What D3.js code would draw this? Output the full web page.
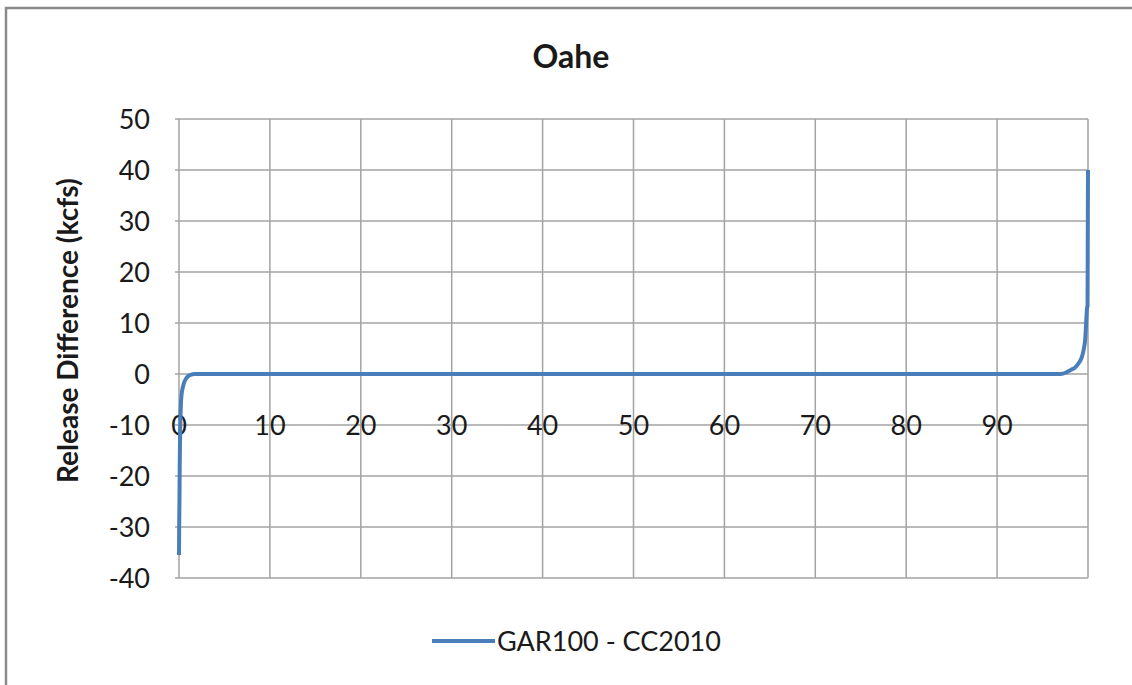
<!DOCTYPE html>
<html>
<head>
<meta charset="utf-8">
<script src="https://cdn.jsdelivr.net/npm/d3@7"></script>
<style>
	body{margin:0;background:#fff;}
	text{font-family:Lato,'Open Sans',sans-serif;fill:#1a1a1a;}
</style>
</head>
<body>
<div class="canvas"></div>
<script>

// exceedance (percent of time) vs release difference
var pctTime = [0, 0.02, 0.05, 0.08, 0.12, 0.17, 0.22, 0.3, 0.42, 0.58, 0.78, 1.0, 1.3, 1.7, 97.0, 97.6, 98.1, 98.6, 99.0, 99.3, 99.55, 99.7, 99.78, 99.84, 99.9, 99.95, 100];
var relDiff = [-35.5, -30, -25, -18, -12, -8, -5.5, -3.8, -2.6, -1.6, -0.9, -0.45, -0.15, 0, 0, 0.3, 0.8, 1.3, 2.2, 3.2, 5.0, 7.0, 9.5, 11.5, 13.0, 13.3, 40];

var xTicks = [0,10,20,30,40,50,60,70,80,90];
var yTicks = [-40,-30,-20,-10,0,10,20,30,40,50];
var seriesName = 'GAR100 - CC2010';
var chartTitle = 'Oahe';
var yTitle = 'Release Difference (kcfs)';

var W = 1132, H = 685;
var margin = {t:119,l:179,r:44,b:107};
var width = W-margin.l-margin.r,
	height = H-margin.t-margin.b;

var svg = d3.select('.canvas')
	.append('svg')
	.attr('width',W)
	.attr('height',H);

// outer chart border (runs off right / bottom)
svg.append('rect')
	.attr('x',6).attr('y',8)
	.attr('width',W+20).attr('height',H+20)
	.attr('fill','#fff')
	.attr('stroke','#8a8a8a')
	.attr('stroke-width',2.5);

var plot = svg.append('g')
	.attr('transform','translate('+margin.l+','+margin.t+')');

var scaleX = d3.scaleLinear().domain([0,100]).range([0,width]);
var scaleY = d3.scaleLinear().domain([-40,50]).range([height,0]);

// gridlines
plot.selectAll('.hgrid')
	.data(yTicks)
	.enter()
	.append('line')
	.attr('class','hgrid')
	.attr('x1',-4).attr('x2',width)
	.attr('y1',function(d){return scaleY(d)})
	.attr('y2',function(d){return scaleY(d)})
	.attr('stroke','#a3a3a3')
	.attr('stroke-width',1.5);

plot.selectAll('.vgrid')
	.data(xTicks.concat([100]))
	.enter()
	.append('line')
	.attr('class','vgrid')
	.attr('y1',0).attr('y2',height)
	.attr('x1',function(d){return scaleX(d)})
	.attr('x2',function(d){return scaleX(d)})
	.attr('stroke','#a3a3a3')
	.attr('stroke-width',1.5);

// y tick labels
plot.selectAll('.ylab')
	.data(yTicks)
	.enter()
	.append('text')
	.attr('class','ylab')
	.attr('x',-29)
	.attr('y',function(d){return scaleY(d)})
	.attr('dy','0.36em')
	.attr('text-anchor','end')
	.style('font-size','27px')
	.text(function(d){return d});

// x tick labels, sitting on the -10 line like the original
plot.selectAll('.xlab')
	.data(xTicks)
	.enter()
	.append('text')
	.attr('class','xlab')
	.attr('x',function(d){return scaleX(d)})
	.attr('y',scaleY(-10))
	.attr('dy','0.36em')
	.attr('text-anchor','middle')
	.style('font-size','27px')
	.text(function(d){return d});

var data = pctTime.map(function(p,i){ return {x:p, y:relDiff[i]} });

var line = d3.line()
	.x(function(d){return scaleX(d.x)})
	.y(function(d){return scaleY(d.y)})
	.curve(d3.curveMonotoneX);

plot.append('path')
	.datum(data)
	.attr('d',line)
	.attr('fill','none')
	.attr('stroke','#4a7ebb')
	.attr('stroke-width',4)
	.attr('stroke-linejoin','round');

// titles
svg.append('text')
	.attr('x',571).attr('y',68)
	.attr('text-anchor','middle')
	.style('font-size','32px')
	.style('font-weight','bold')
	.text(chartTitle);

svg.append('text')
	.attr('transform','translate(78,'+(margin.t+scaleY(8.5))+') rotate(-90)')
	.attr('text-anchor','middle')
	.style('font-size','28px')
	.style('font-weight','bold')
	.text(yTitle);

// legend
var leg = svg.append('g').attr('transform','translate(432,641)');
leg.append('line')
	.attr('x1',0).attr('x2',63)
	.attr('stroke','#4a7ebb')
	.attr('stroke-width',4);
leg.append('text')
	.attr('x',65).attr('dy','0.36em')
	.style('font-size','27px')
	.text(seriesName);

</script>
</body>
</html>
